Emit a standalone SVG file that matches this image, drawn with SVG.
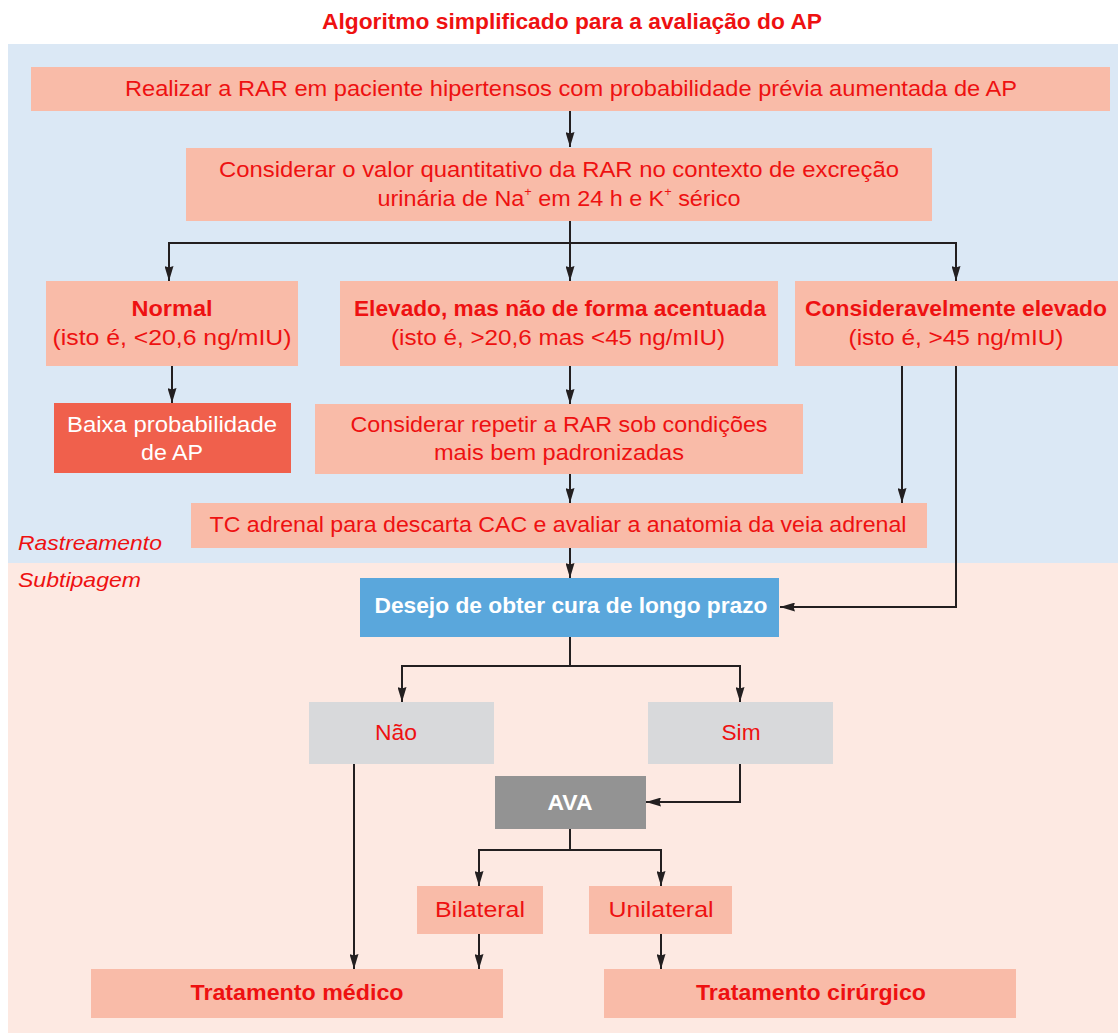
<svg xmlns="http://www.w3.org/2000/svg" width="1118" height="1033" viewBox="0 0 1118 1033">
<defs>
<marker id="ah" markerWidth="15" markerHeight="9" refX="15" refY="4.5" orient="auto" markerUnits="userSpaceOnUse" viewBox="0 0 15 9" preserveAspectRatio="none">
<path d="M0,0 L15,4.5 L0,9 L1.5,4.5 Z" fill="#231f20"/>
</marker>
<style>
.t{font-family:"Liberation Sans",Arial,sans-serif;font-size:22px;fill:#ee1111;text-anchor:middle}
.b{font-weight:bold}
.w{fill:#ffffff}
.box{fill:#f9bba8}
.gray{fill:#d8d9db}
.ln{fill:none;stroke:#231f20;stroke-width:2}
.ar{fill:none;stroke:#231f20;stroke-width:2;marker-end:url(#ah)}
.sec{font-family:"Liberation Sans",Arial,sans-serif;font-size:21px;font-style:italic;fill:#ee1111}
</style>
</defs>
<rect x="0" y="0" width="1118" height="1033" fill="#ffffff"/>
<rect x="8" y="44" width="1110" height="519" fill="#dbe8f5"/>
<rect x="8" y="563" width="1110" height="470" fill="#fde9e2"/>
<text class="t b" x="572" y="29" textLength="500" lengthAdjust="spacingAndGlyphs">Algoritmo simplificado para a avaliação do AP</text>
<text class="sec" x="18" y="550" textLength="144" lengthAdjust="spacingAndGlyphs">Rastreamento</text>
<text class="sec" x="18" y="587" textLength="123" lengthAdjust="spacingAndGlyphs">Subtipagem</text>

<g id="n1"><rect class="box" x="31" y="67" width="1079" height="44"/>
<text class="t" x="571" y="96" textLength="892" lengthAdjust="spacingAndGlyphs">Realizar a RAR em paciente hipertensos com probabilidade prévia aumentada de AP</text></g>

<g id="n2"><rect class="box" x="186" y="148" width="746" height="73"/>
<text class="t" x="559" y="177" textLength="680" lengthAdjust="spacingAndGlyphs">Considerar o valor quantitativo da RAR no contexto de excreção</text>
<text class="t" x="559" y="206" textLength="363" lengthAdjust="spacingAndGlyphs">urinária de Na<tspan font-size="12" dy="-10">+</tspan><tspan dy="10"> em 24 h e K</tspan><tspan font-size="12" dy="-10">+</tspan><tspan dy="10"> sérico</tspan></text></g>

<g id="n3"><rect class="box" x="46" y="281" width="252" height="85"/>
<text class="t b" x="172" y="316" textLength="81" lengthAdjust="spacingAndGlyphs">Normal</text>
<text class="t" x="172" y="345" textLength="239" lengthAdjust="spacingAndGlyphs">(isto é, &lt;20,6 ng/mIU)</text></g>

<g id="n4"><rect class="box" x="340" y="281" width="438" height="85"/>
<text class="t b" x="560" y="316" textLength="412" lengthAdjust="spacingAndGlyphs">Elevado, mas não de forma acentuada</text>
<text class="t" x="558" y="345" textLength="334" lengthAdjust="spacingAndGlyphs">(isto é, &gt;20,6 mas &lt;45 ng/mIU)</text></g>

<g id="n5"><rect class="box" x="795" y="281" width="323" height="85"/>
<text class="t b" x="956" y="316" textLength="302" lengthAdjust="spacingAndGlyphs">Consideravelmente elevado</text>
<text class="t" x="956" y="345" textLength="215" lengthAdjust="spacingAndGlyphs">(isto é, &gt;45 ng/mIU)</text></g>

<g id="n6"><rect x="54" y="403" width="237" height="70" fill="#f0604c"/>
<text class="t w" x="172" y="432" textLength="210" lengthAdjust="spacingAndGlyphs">Baixa probabilidade</text>
<text class="t w" x="172" y="460" textLength="62" lengthAdjust="spacingAndGlyphs">de AP</text></g>

<g id="n7"><rect class="box" x="315" y="404" width="488" height="70"/>
<text class="t" x="559" y="432" textLength="417" lengthAdjust="spacingAndGlyphs">Considerar repetir a RAR sob condições</text>
<text class="t" x="559" y="460" textLength="250" lengthAdjust="spacingAndGlyphs">mais bem padronizadas</text></g>

<g id="n8"><rect class="box" x="191" y="503" width="736" height="45"/>
<text class="t" x="558" y="532" textLength="697" lengthAdjust="spacingAndGlyphs">TC adrenal para descarta CAC e avaliar a anatomia da veia adrenal</text></g>

<g id="n9"><rect x="360" y="578" width="419" height="59" fill="#5aa7dc"/>
<text class="t b w" x="571" y="613" textLength="393" lengthAdjust="spacingAndGlyphs">Desejo de obter cura de longo prazo</text></g>

<g id="n10"><rect class="gray" x="309" y="702" width="185" height="62"/>
<text class="t" x="396" y="740" textLength="42" lengthAdjust="spacingAndGlyphs">Não</text></g>

<g id="n11"><rect class="gray" x="648" y="702" width="185" height="62"/>
<text class="t" x="741" y="740" textLength="39" lengthAdjust="spacingAndGlyphs">Sim</text></g>

<g id="n12"><rect x="495" y="776" width="151" height="53" fill="#939393"/>
<text class="t b w" x="570" y="810" textLength="45" lengthAdjust="spacingAndGlyphs">AVA</text></g>

<g id="n13"><rect class="box" x="417" y="886" width="126" height="48"/>
<text class="t" x="480" y="917" textLength="90" lengthAdjust="spacingAndGlyphs">Bilateral</text></g>

<g id="n14"><rect class="box" x="589" y="886" width="143" height="48"/>
<text class="t" x="661" y="917" textLength="105" lengthAdjust="spacingAndGlyphs">Unilateral</text></g>

<g id="n15"><rect class="box" x="91" y="969" width="412" height="49"/>
<text class="t b" x="297" y="1000" textLength="213" lengthAdjust="spacingAndGlyphs">Tratamento médico</text></g>

<g id="n16"><rect class="box" x="604" y="969" width="412" height="49"/>
<text class="t b" x="811" y="1000" textLength="230" lengthAdjust="spacingAndGlyphs">Tratamento cirúrgico</text></g>

<g id="connectors">
<path class="ar" d="M570,111 V147"/>
<path class="ln" d="M570,221 V243 M168,243 H957"/>
<path class="ar" d="M169,242 V281"/>
<path class="ar" d="M570,243 V281"/>
<path class="ar" d="M956,242 V281"/>
<path class="ar" d="M172,366 V403"/>
<path class="ar" d="M570,366 V404"/>
<path class="ar" d="M570,474 V503"/>
<path class="ar" d="M902,366 V503"/>
<path class="ar" d="M956,366 V607 H780"/>
<path class="ar" d="M570,548 V578"/>
<path class="ln" d="M570,637 V666 M401,666 H741"/>
<path class="ar" d="M402,665 V702"/>
<path class="ar" d="M740,665 V702"/>
<path class="ar" d="M354,764 V969"/>
<path class="ar" d="M740,764 V802 H646"/>
<path class="ln" d="M570,829 V850 M478,850 H662"/>
<path class="ar" d="M479,849 V886"/>
<path class="ar" d="M661,849 V886"/>
<path class="ar" d="M479,934 V969"/>
<path class="ar" d="M661,934 V969"/>
</g>
</svg>
